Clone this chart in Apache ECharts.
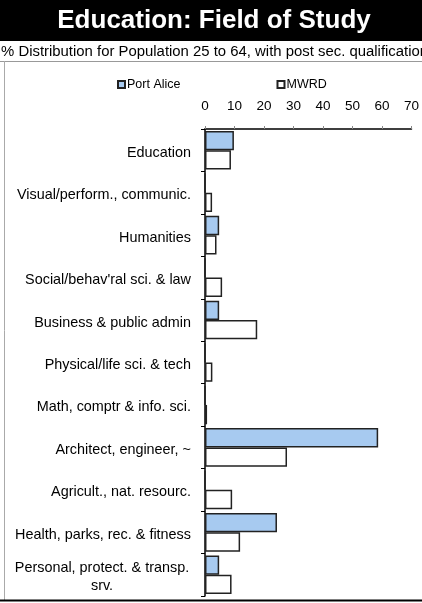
<!DOCTYPE html>
<html>
<head>
<meta charset="utf-8">
<script src="https://cdn.jsdelivr.net/npm/echarts@6/dist/echarts.min.js"></script>
<style>
  html, body { margin: 0; padding: 0; background: #fff; }
  #chart { width: 422px; height: 603px; }
</style>
</head>
<body>
<div id="chart"></div>
<script>
var categories = [
  'Education',
  'Visual/perform., communic.',
  'Humanities',
  "Social/behav'ral sci. & law",
  'Business & public admin',
  'Physical/life sci. & tech',
  'Math, comptr & info. sci.',
  'Architect, engineer, ~',
  'Agricult., nat. resourc.',
  'Health, parks, rec. & fitness',
  'Personal, protect. & transp.\nsrv.'
];
var portAlice = [9.8, 0, 4.8, 0, 4.8, 0, 0, 58.7, 0, 24.4, 4.8];
var mwrd = [8.8, 2.4, 3.9, 5.8, 17.7, 2.5, 0.7, 27.8, 9.2, 11.9, 9.0];
var xTicks = { min: 0, max: 70, interval: 10 };

var font = 'Liberation Sans, Arial, sans-serif';
var myChart = echarts.init(document.getElementById('chart'));

var option = {
  animation: false,
  backgroundColor: '#fff',
  textStyle: { fontFamily: font },
  graphic: [
    { type: 'rect', shape: { x: 0, y: 0, width: 422, height: 41 }, style: { fill: '#000' } },
    { type: 'text', x: 214, y: 21, style: { text: 'Education: Field of Study', fill: '#fff', font: 'bold 26px ' + font, textAlign: 'center', textVerticalAlign: 'middle' } },
    { type: 'text', x: 1, y: 52, style: { text: '% Distribution for Population 25 to 64, with post sec. qualification', fill: '#000', font: '14.9px ' + font, textVerticalAlign: 'middle' } },
    { type: 'line', shape: { x1: 0, y1: 61.5, x2: 422, y2: 61.5 }, style: { stroke: '#999', lineWidth: 1 } },
    { type: 'line', shape: { x1: 4.5, y1: 61, x2: 4.5, y2: 600 }, style: { stroke: '#aaa', lineWidth: 1 } },
    { type: 'line', shape: { x1: 0, y1: 600.5, x2: 422, y2: 600.5 }, style: { stroke: '#000', lineWidth: 2 } }
  ],
  legend: {
    left: 112,
    top: 73,
    itemWidth: 7,
    itemHeight: 7,
    itemGap: 96,
    icon: 'rect',
    textStyle: { fontSize: 12.5, color: '#000', fontFamily: font, padding: [0, 0, 0, -3] },
    data: ['Port Alice', 'MWRD']
  },
  grid: { left: 205, right: 10, top: 129, bottom: 7, containLabel: false },
  xAxis: {
    type: 'value',
    position: 'top',
    min: xTicks.min,
    max: xTicks.max,
    interval: xTicks.interval,
    axisLine: { show: true, lineStyle: { color: '#000', width: 1.5 } },
    axisTick: { show: true, length: 3, lineStyle: { color: '#888' } },
    axisLabel: { fontSize: 13.5, color: '#000', margin: 16, fontFamily: font },
    splitLine: { show: false }
  },
  yAxis: {
    type: 'category',
    inverse: true,
    data: categories,
    axisLine: { lineStyle: { color: '#000', width: 1.5 } },
    axisTick: { show: true, length: 4, lineStyle: { color: '#000' } },
    axisLabel: {
      fontSize: 14.4,
      color: '#000',
      margin: 14,
      padding: [5, 0, 0, 0],
      fontFamily: font,
      formatter: function (v) {
        var p = v.split('\n');
        if (p.length > 1) return '{c|' + p[0] + '}\n{c|' + p[1] + '}';
        return v;
      },
      rich: { c: { width: 178, align: 'center', fontSize: 14.4, fontFamily: font, color: '#000', lineHeight: 18 } }
    }
  },
  series: [
    {
      name: 'Port Alice',
      type: 'bar',
      data: portAlice,
      barGap: '0%',
      barCategoryGap: '9%',
      itemStyle: { color: '#a7caf0', borderColor: '#222', borderWidth: 1.5 }
    },
    {
      name: 'MWRD',
      type: 'bar',
      data: mwrd,
      itemStyle: { color: '#fff', borderColor: '#222', borderWidth: 1.5 }
    }
  ]
};
myChart.setOption(option);
</script>
</body>
</html>
